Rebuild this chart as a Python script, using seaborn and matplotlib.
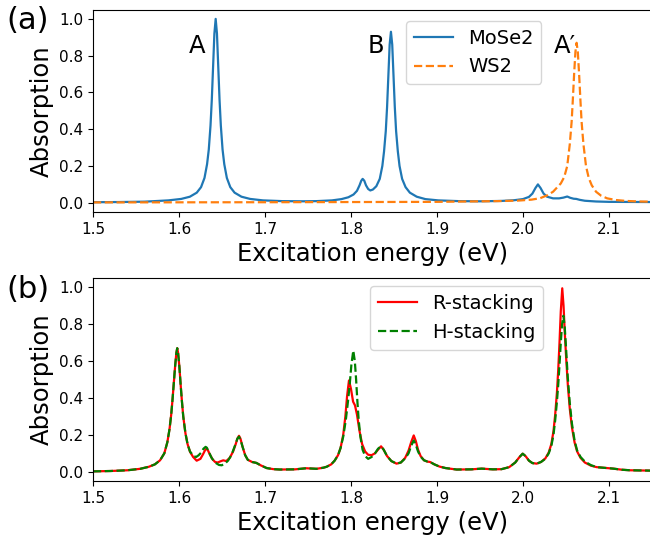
import matplotlib
matplotlib.use("Agg")
import matplotlib.pyplot as plt
import seaborn as sns
import pandas as pd

# ---------------- Panel (a) data: (energy eV, absorption) ----------------
mose2_pts = [
    (1.500, 0.003), (1.530, 0.004), (1.560, 0.006), (1.5877, 0.013), (1.6027, 0.021),
    (1.6127, 0.033), (1.6207, 0.055), (1.6257, 0.085), (1.6297, 0.135), (1.6327, 0.21),
    (1.6347, 0.29), (1.6367, 0.42), (1.6382, 0.56), (1.6397, 0.74), (1.6412, 0.92),
    (1.6427, 1.00),
    (1.6442, 0.92), (1.6457, 0.74), (1.6472, 0.56), (1.6487, 0.42), (1.6507, 0.29),
    (1.6527, 0.21), (1.6557, 0.135), (1.6597, 0.085), (1.6647, 0.055), (1.6727, 0.033),
    (1.6827, 0.021), (1.6977, 0.013), (1.720, 0.009), (1.745, 0.008), (1.760, 0.009),
    (1.778, 0.013), (1.789, 0.020), (1.797, 0.030), (1.803, 0.045), (1.807, 0.065),
    (1.810, 0.095), (1.812, 0.120), (1.8136, 0.130), (1.8155, 0.120), (1.8175, 0.095),
    (1.820, 0.075), (1.8225, 0.067), (1.8255, 0.072), (1.8295, 0.090), (1.8335, 0.130),
    (1.8365, 0.200), (1.8385, 0.280), (1.8405, 0.390), (1.842, 0.520), (1.8435, 0.690),
    (1.845, 0.860), (1.8465, 0.930), (1.848, 0.860), (1.8495, 0.690), (1.851, 0.520),
    (1.8525, 0.390), (1.8545, 0.280), (1.8565, 0.200), (1.8595, 0.130), (1.8635, 0.085),
    (1.8685, 0.055), (1.8765, 0.033), (1.8865, 0.020), (1.9015, 0.013), (1.925, 0.009),
    (1.950, 0.008), (1.975, 0.010), (1.990, 0.014), (2.000, 0.020), (2.007, 0.032),
    (2.011, 0.050), (2.0145, 0.080), (2.0174, 0.100), (2.0205, 0.080), (2.024, 0.050),
    (2.028, 0.033), (2.035, 0.024), (2.042, 0.024), (2.047, 0.028), (2.0515, 0.034),
    (2.055, 0.027), (2.059, 0.022), (2.062, 0.021), (2.066, 0.016), (2.072, 0.011),
    (2.085, 0.007), (2.100, 0.005), (2.150, 0.004),
]

ws2_pts = [
    (1.500, 0.002), (1.700, 0.003), (1.900, 0.005), (1.970, 0.009), (1.995, 0.012),
    (2.010, 0.017), (2.020, 0.025), (2.028, 0.040), (2.035, 0.060), (2.040, 0.085),
    (2.044, 0.105), (2.048, 0.140), (2.0515, 0.200), (2.0545, 0.320), (2.0566, 0.440),
    (2.058, 0.560), (2.0595, 0.700), (2.061, 0.820), (2.0624, 0.870), (2.0638, 0.820),
    (2.0653, 0.700), (2.0668, 0.560), (2.0682, 0.440), (2.0703, 0.320), (2.0733, 0.200),
    (2.0765, 0.135), (2.080, 0.095), (2.085, 0.060), (2.091, 0.038), (2.098, 0.024),
    (2.108, 0.015), (2.120, 0.010), (2.135, 0.007), (2.150, 0.006),
]

# ---------------- Panel (b) data ----------------
r_pts = [
    (1.500, 0.002), (1.520, 0.004), (1.540, 0.008), (1.555, 0.016), (1.565, 0.027),
    (1.572, 0.040), (1.578, 0.062), (1.583, 0.100), (1.5865, 0.160), (1.589, 0.230),
    (1.591, 0.310), (1.5925, 0.390), (1.594, 0.480), (1.5955, 0.570), (1.597, 0.645),
    (1.598, 0.670), (1.599, 0.645), (1.6005, 0.570), (1.602, 0.470), (1.6035, 0.380),
    (1.605, 0.300), (1.6075, 0.210), (1.610, 0.150), (1.613, 0.107), (1.6165, 0.080),
    (1.6206, 0.060), (1.625, 0.070), (1.628, 0.095), (1.6305, 0.118), (1.632, 0.125),
    (1.6335, 0.118), (1.636, 0.093), (1.639, 0.068), (1.642, 0.053), (1.645, 0.050),
    (1.648, 0.056), (1.6515, 0.062), (1.655, 0.058), (1.659, 0.075), (1.663, 0.110),
    (1.666, 0.150), (1.668, 0.180), (1.6698, 0.195), (1.6715, 0.180), (1.674, 0.135),
    (1.677, 0.090), (1.680, 0.065), (1.685, 0.053), (1.690, 0.048), (1.695, 0.035),
    (1.702, 0.020), (1.710, 0.014), (1.7174, 0.012), (1.735, 0.013), (1.748, 0.019),
    (1.760, 0.016), (1.768, 0.022), (1.7717, 0.027), (1.777, 0.040), (1.781, 0.060),
    (1.785, 0.090), (1.788, 0.130), (1.791, 0.200), (1.7935, 0.300), (1.7955, 0.410),
    (1.7977, 0.495), (1.800, 0.450), (1.8025, 0.380), (1.8047, 0.360), (1.807, 0.310),
    (1.810, 0.220), (1.813, 0.150), (1.8165, 0.110), (1.820, 0.092), (1.824, 0.090),
    (1.828, 0.100), (1.8315, 0.120), (1.835, 0.138), (1.838, 0.120), (1.842, 0.085),
    (1.847, 0.058), (1.853, 0.044), (1.858, 0.050), (1.863, 0.075), (1.867, 0.115),
    (1.870, 0.160), (1.873, 0.197), (1.8755, 0.165), (1.878, 0.120), (1.881, 0.085),
    (1.885, 0.062), (1.889, 0.055), (1.892, 0.053), (1.897, 0.040), (1.903, 0.028),
    (1.910, 0.020), (1.923, 0.012), (1.940, 0.013), (1.952, 0.017), (1.965, 0.013),
    (1.975, 0.014), (1.984, 0.025), (1.991, 0.050), (1.996, 0.080), (1.9997, 0.098),
    (2.003, 0.085), (2.007, 0.060), (2.011, 0.047), (2.016, 0.044), (2.021, 0.053),
    (2.026, 0.072), (2.030, 0.105), (2.033, 0.150), (2.0355, 0.220), (2.0375, 0.310),
    (2.0395, 0.430), (2.041, 0.550), (2.0425, 0.700), (2.044, 0.870), (2.0457, 0.995),
    (2.0472, 0.900), (2.0487, 0.750), (2.0502, 0.620), (2.0522, 0.470), (2.0545, 0.340),
    (2.057, 0.240), (2.060, 0.160), (2.063, 0.110), (2.067, 0.075), (2.072, 0.050),
    (2.079, 0.033), (2.0857, 0.025), (2.095, 0.021), (2.105, 0.017), (2.115, 0.011),
    (2.1245, 0.008), (2.135, 0.007), (2.150, 0.006),
]

h_pts = [
    (1.500, 0.002), (1.520, 0.004), (1.540, 0.008), (1.555, 0.016), (1.565, 0.027),
    (1.572, 0.040), (1.578, 0.062), (1.583, 0.100), (1.5865, 0.160), (1.589, 0.230),
    (1.591, 0.310), (1.5925, 0.390), (1.594, 0.480), (1.5955, 0.570), (1.597, 0.645),
    (1.598, 0.670), (1.599, 0.645), (1.6005, 0.570), (1.602, 0.470), (1.6035, 0.380),
    (1.605, 0.300), (1.6075, 0.210), (1.610, 0.150), (1.6128, 0.110), (1.617, 0.085),
    (1.620, 0.080), (1.623, 0.090), (1.626, 0.105), (1.6285, 0.125), (1.631, 0.135),
    (1.6325, 0.130), (1.635, 0.105), (1.638, 0.075), (1.642, 0.050), (1.6465, 0.037),
    (1.6496, 0.035), (1.653, 0.042), (1.657, 0.060), (1.661, 0.090), (1.665, 0.140),
    (1.668, 0.180), (1.6698, 0.190), (1.6715, 0.175), (1.674, 0.135), (1.677, 0.090),
    (1.680, 0.065), (1.685, 0.053), (1.690, 0.048), (1.695, 0.035), (1.702, 0.020),
    (1.710, 0.014), (1.7174, 0.012), (1.735, 0.013), (1.748, 0.019), (1.760, 0.016),
    (1.768, 0.022), (1.7717, 0.027), (1.777, 0.040), (1.781, 0.060), (1.785, 0.090),
    (1.788, 0.130), (1.791, 0.190), (1.794, 0.280), (1.7965, 0.380), (1.7985, 0.470),
    (1.8005, 0.580), (1.8027, 0.657), (1.8045, 0.600), (1.806, 0.500), (1.8075, 0.380),
    (1.809, 0.280), (1.811, 0.190), (1.8135, 0.120), (1.8165, 0.085), (1.820, 0.070),
    (1.824, 0.080), (1.828, 0.100), (1.8315, 0.125), (1.835, 0.138), (1.838, 0.120),
    (1.842, 0.085), (1.847, 0.058), (1.853, 0.044), (1.858, 0.050), (1.863, 0.072),
    (1.867, 0.100), (1.870, 0.140), (1.873, 0.170), (1.8755, 0.145), (1.878, 0.110),
    (1.881, 0.082), (1.885, 0.062), (1.889, 0.055), (1.892, 0.053), (1.897, 0.040),
    (1.903, 0.028), (1.910, 0.020), (1.923, 0.012), (1.940, 0.013), (1.952, 0.017),
    (1.965, 0.013), (1.975, 0.014), (1.984, 0.025), (1.991, 0.050), (1.996, 0.080),
    (1.9997, 0.098), (2.003, 0.085), (2.007, 0.060), (2.011, 0.047), (2.016, 0.044),
    (2.021, 0.053), (2.026, 0.070), (2.030, 0.100), (2.033, 0.140), (2.0355, 0.200),
    (2.0375, 0.280), (2.0395, 0.380), (2.041, 0.470), (2.0425, 0.580), (2.044, 0.700),
    (2.0455, 0.800), (2.047, 0.846), (2.0485, 0.790), (2.050, 0.680), (2.052, 0.520),
    (2.0545, 0.370), (2.057, 0.260), (2.060, 0.170), (2.063, 0.115), (2.067, 0.080),
    (2.072, 0.055), (2.079, 0.036), (2.0857, 0.025), (2.095, 0.021), (2.105, 0.017),
    (2.115, 0.011), (2.1245, 0.008), (2.135, 0.007), (2.150, 0.006),
]

x_ticks = [1.5, 1.6, 1.7, 1.8, 1.9, 2.0, 2.1]
y_ticks = [0.0, 0.2, 0.4, 0.6, 0.8, 1.0]
peak_labels = ["A", "B", "A\u2032"]
peak_label_x = [1.621, 1.829, 2.049]
peak_label_y = [0.85, 0.85, 0.85]


def to_df(pts):
    return pd.DataFrame(pts, columns=["x", "y"])


plt.rcParams['font.family'] = ['DejaVu Sans']

fig = plt.figure(figsize=(6.5, 5.38), dpi=100)
ax1 = fig.add_axes([0.143, 0.606, 0.860, 0.376])
ax2 = fig.add_axes([0.143, 0.106, 0.860, 0.377])

sns.lineplot(data=to_df(mose2_pts), x="x", y="y", ax=ax1, color="#1f77b4", lw=1.6,
             label="MoSe2", sort=False, estimator=None)
sns.lineplot(data=to_df(ws2_pts), x="x", y="y", ax=ax1, color="#ff7f0e", lw=1.6,
             linestyle="--", label="WS2", sort=False, estimator=None)

sns.lineplot(data=to_df(r_pts), x="x", y="y", ax=ax2, color="red", lw=1.6,
             label="R-stacking", sort=False, estimator=None)
sns.lineplot(data=to_df(h_pts), x="x", y="y", ax=ax2, color="green", lw=1.6,
             linestyle="--", label="H-stacking", sort=False, estimator=None)

for lab, lx, ly in zip(peak_labels, peak_label_x, peak_label_y):
    ax1.text(lx, ly, lab, fontsize=17.5, ha="center", va="center")

for ax in (ax1, ax2):
    ax.set_xlim(1.5, 2.15)
    ax.set_ylim(-0.05, 1.05)
    ax.set_xticks(x_ticks)
    ax.set_yticks(y_ticks)
    ax.tick_params(labelsize=11)
    ax.set_xlabel("Excitation energy (eV)", fontsize=17.5)
    ax.set_ylabel("Absorption", fontsize=17.5)

ax1.legend(loc="upper left", bbox_to_anchor=(0.56, 0.945), fontsize=14,
           borderaxespad=0)
ax2.legend(loc="upper left", bbox_to_anchor=(0.4955, 0.96), fontsize=14,
           borderaxespad=0)

fig.text(0.010, 0.962, "(a)", fontsize=22, va="center")
fig.text(0.010, 0.462, "(b)", fontsize=22, va="center")

fig.savefig("out.png", dpi=100)
